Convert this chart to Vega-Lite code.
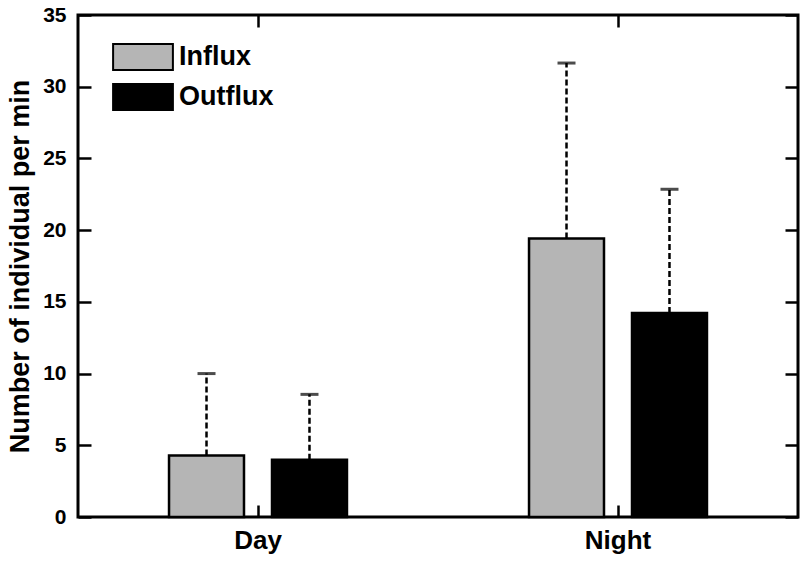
{
  "$schema": "https://vega.github.io/schema/vega-lite/v6.json",
  "width": 720,
  "height": 502,
  "autosize": {"type": "none"},
  "padding": {"left": 78, "top": 15, "right": 8, "bottom": 44},
  "background": "white",
  "config": {
    "font": "Liberation Sans",
    "view": {"stroke": "black", "strokeWidth": 3},
    "axis": {"domain": false, "grid": false, "tickColor": "black", "tickWidth": 2.5, "labelFont": "Liberation Sans", "labelFontWeight": "bold", "labelColor": "black", "titleFont": "Liberation Sans", "titleFontWeight": "bold", "titleColor": "black"}
  },
  "data": {
    "values": [
      {"period": "Day", "flux": "Influx", "mean": 4.28, "upper": 10.0},
      {"period": "Day", "flux": "Outflux", "mean": 4.0, "upper": 8.55},
      {"period": "Night", "flux": "Influx", "mean": 19.42, "upper": 31.65},
      {"period": "Night", "flux": "Outflux", "mean": 14.22, "upper": 22.85}
    ]
  },
  "resolve": {"axis": {"x": "independent", "y": "independent"}},
  "layer": [
    {
      "mark": {"type": "bar", "stroke": "black", "strokeWidth": 2.5},
      "encoding": {
        "x": {"field": "period", "type": "nominal", "scale": {"paddingInner": 0, "paddingOuter": 0},
              "axis": {"title": null, "labelAngle": 0, "labelFontSize": 26, "labelPadding": 22, "tickSize": -12, "labelBaseline": "top"}},
        "xOffset": {"field": "flux", "type": "nominal", "scale": {"paddingInner": 0.272, "paddingOuter": 0.884}},
        "y": {"field": "mean", "type": "quantitative", "scale": {"domain": [0, 35], "nice": false},
              "axis": {"title": "Number of individual per min", "titleFontSize": 27, "titlePadding": 8, "labelFontSize": 21, "tickSize": -13, "labelPadding": 25, "values": [0, 5, 10, 15, 20, 25, 30, 35]}},
        "color": {"field": "flux", "type": "nominal", "scale": {"domain": ["Influx", "Outflux"], "range": ["#b5b5b5", "#000000"]},
                  "legend": {"title": null, "orient": "none", "legendX": 51, "legendY": 28, "padding": 0,
                             "symbolType": "M-2.3,-1H2.3V1H-2.3Z", "symbolSize": 676, "symbolStrokeColor": "black", "symbolStrokeWidth": 2, "symbolOpacity": 1,
                             "labelFontSize": 27, "labelFont": "Liberation Sans", "labelFontWeight": "bold", "labelColor": "black", "labelOffset": 22, "rowPadding": 6}}
      }
    },
    {
      "mark": {"type": "rule", "color": "black", "strokeWidth": 2.5, "strokeDash": [6, 3]},
      "encoding": {
        "x": {"field": "period", "type": "nominal", "axis": {"orient": "top", "title": null, "labels": false, "tickSize": -12}},
        "xOffset": {"field": "flux", "type": "nominal"},
        "y": {"field": "mean", "type": "quantitative", "axis": {"orient": "right", "title": null, "labels": false, "tickSize": -13, "values": [0, 5, 10, 15, 20, 25, 30, 35]}},
        "y2": {"field": "upper"}
      }
    },
    {
      "mark": {"type": "tick", "color": "black", "thickness": 3, "size": 18, "orient": "horizontal"},
      "encoding": {
        "x": {"field": "period", "type": "nominal", "axis": null},
        "xOffset": {"field": "flux", "type": "nominal"},
        "y": {"field": "upper", "type": "quantitative", "axis": null}
      }
    }
  ]
}
